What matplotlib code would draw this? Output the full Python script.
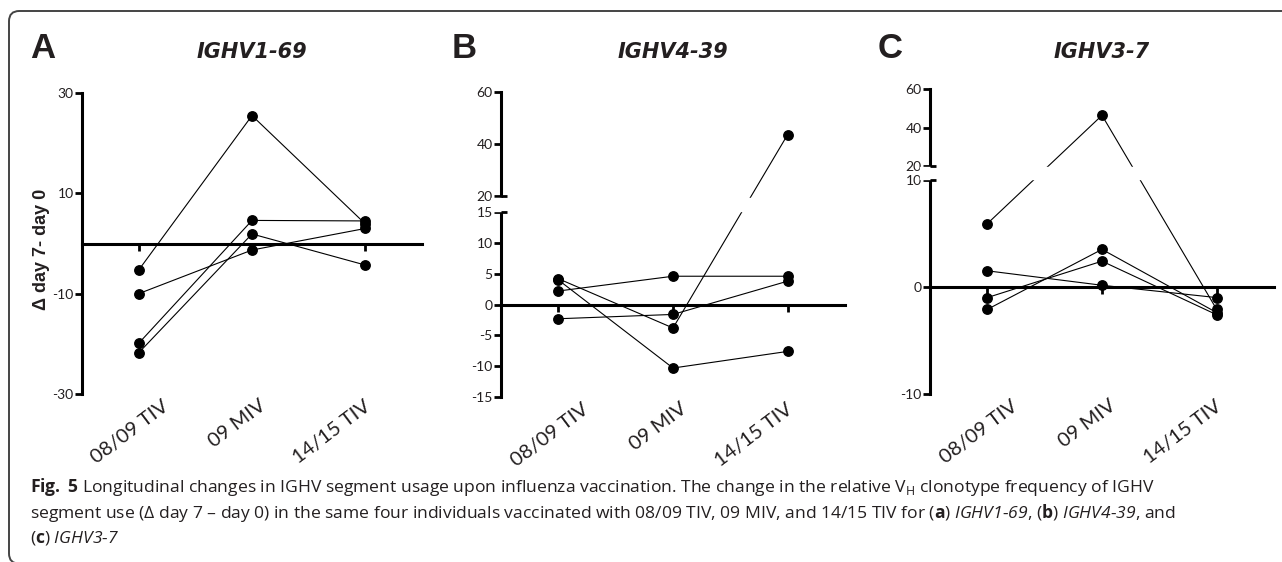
import numpy as np
import matplotlib.pyplot as plt
import matplotlib.transforms as mtransforms
from matplotlib.patches import FancyBboxPatch, Rectangle

plt.rcParams['font.family'] = ['Lato', 'DejaVu Sans']
plt.rcParams['mathtext.fontset'] = 'custom'
plt.rcParams['mathtext.rm'] = 'Open Sans'
plt.rcParams['mathtext.bf'] = 'Open Sans:bold'
# italic slot for gene names (sf is used so digits stay italic too)
plt.rcParams['mathtext.sf'] = 'Open Sans:italic'

categories = ['08/09 TIV', '09 MIV', '14/15 TIV']

# one row per individual: delta (day 7 - day 0) at each vaccination
ighv1_69 = [[-5.3, 25.5, 3.9],
            [-10.0, -1.3, 3.0],
            [-19.9, 4.6, 4.5],
            [-21.8, 1.9, -4.3]]
ighv4_39 = [[2.2, 4.6, 4.6],
            [-2.3, -1.6, 3.8],
            [4.2, -3.8, 43.7],
            [4.0, -10.3, -7.6]]
ighv3_7 = [[5.9, 46.4, -2.1],
           [1.5, 0.15, -1.0],
           [-2.1, 3.5, -2.4],
           [-1.0, 2.4, -2.6]]

ticks_a = [-30, -10, 10, 30]
ticks_b = [-15, -10, -5, 0, 5, 10, 15, 20, 40, 60]
ticks_c = [-10, 0, 10, 20, 40, 60]

W, H = 1282, 562
fig = plt.figure(figsize=(W / 100, H / 100), dpi=100)
ink = '#231f20'


def break_scale(lo, hi, k1, gap, k2):
    # piecewise linear y scale (pixels per unit below lo, across gap, above hi)
    a = lo * k1

    def fwd(y):
        y = np.asarray(y, dtype=float)
        return np.where(y <= lo, y * k1,
                        np.where(y <= hi, a + (y - lo) * gap / (hi - lo),
                                 a + gap + (y - hi) * k2))

    def inv(u):
        u = np.asarray(u, dtype=float)
        return np.where(u <= a, u / k1,
                        np.where(u <= a + gap, lo + (u - a) * (hi - lo) / gap,
                                 hi + (u - a - gap) / k2))
    return fwd, inv


def panel(rect, data, ticks, ylim, title, brk=None, scale=None):
    ax = fig.add_axes([rect[0] / W, 1 - rect[3] / H,
                       (rect[2] - rect[0]) / W, (rect[3] - rect[1]) / H])
    if scale is not None:
        ax.set_yscale('function', functions=scale)
    x = np.arange(len(categories))
    for row in data:
        ax.plot(x, row, color='black', lw=0.8, marker='o', ms=6.8,
                mfc='black', mec='black', clip_on=False, zorder=2)
    ax.set_xlim(-0.5, 2.5)
    ax.set_ylim(*ylim)
    ax.set_yticks(ticks)
    ax.set_yticklabels([str(t) for t in ticks])
    ax.set_xticks(x)
    ax.tick_params(axis='x', direction='out', length=5, width=2,
                   labelbottom=False)
    ax.tick_params(axis='y', direction='out', length=5, width=2,
                   labelsize=10, labelcolor=ink, pad=1)
    for s in ('top', 'right'):
        ax.spines[s].set_visible(False)
    ax.spines['left'].set_linewidth(2.2)
    ax.spines['bottom'].set_linewidth(2.2)
    ax.spines['bottom'].set_position(('data', 0))
    ax.patch.set_alpha(0)

    if brk:
        lo, hi = brk
        tr = ax.get_yaxis_transform()
        ax.add_patch(Rectangle((-0.03, lo + 0.45), 1.03, hi - lo - 0.9,
                               transform=tr, color='white', zorder=3,
                               clip_on=False))
        for yb in brk:
            ax.plot([0, 0.016], [yb, yb], transform=tr, color='black',
                    lw=2, clip_on=False, zorder=4, solid_capstyle='butt')

    shifts = [0.28, 0.12, 0.03]
    for i, (cat, dx) in enumerate(zip(categories, shifts)):
        tr = ax.get_xaxis_transform() + mtransforms.ScaledTranslation(
            dx, -0.10, fig.dpi_scale_trans)
        ax.text(i, 0, cat, transform=tr, rotation=37, rotation_mode='anchor',
                ha='right', va='center', fontsize=14.5, color=ink)

    cx = (rect[0] + rect[2]) / 2 / W
    fig.text(cx, 1 - 52 / H, title, ha='center', va='center', fontsize=15,
             fontweight='bold', fontstyle='italic', family='DejaVu Sans',
             color=ink)
    return ax


ax_a = panel((82, 93, 422, 394), ighv1_69, ticks_a, (-30, 30), 'IGHV1-69')
ax_a.set_ylabel('Δ day 7- day 0', fontsize=13, fontweight='bold',
                family='Liberation Sans', color=ink)
ax_a.yaxis.set_label_coords(-0.094, 0.482)

panel((501, 92, 845, 397), ighv4_39, ticks_b, (-15, 60), 'IGHV4-39',
      brk=(15, 20), scale=break_scale(15, 20, 92 / 15, 15.6, 2.6))
panel((930, 89, 1274, 394), ighv3_7, ticks_c, (-10, 60), 'IGHV3-7',
      brk=(10, 20), scale=break_scale(10, 20, 10.73, 13.3, 1.94))

for lx, letter in [(30, 'A'), (452, 'B'), (878, 'C')]:
    fig.text(lx / W, 1 - 48 / H, letter, ha='left', va='center', fontsize=25,
             fontweight='bold', family='Liberation Sans', color=ink)

# rounded frame around the figure
fig.patches.append(FancyBboxPatch(
    (9 / W, -0.003), 1.1, 1 - 11 / H + 0.003,
    boxstyle='round,pad=0,rounding_size=0.008', mutation_aspect=W / H,
    transform=fig.transFigure, fill=False, ec='#444444', lw=1.4))

caption = [
    r'$\mathbf{Fig.}$ $\mathbf{5}$ Longitudinal changes in IGHV segment usage upon '
    r'influenza vaccination. The change in the relative V$_{\mathrm{H}}$ '
    r'clonotype frequency of IGHV',
    r'segment use (Δ day 7 – day 0) in the same four individuals vaccinated with '
    r'08/09 TIV, 09 MIV, and 14/15 TIV for ($\mathbf{a}$) $\mathsf{IGHV1‐69}$, '
    r'($\mathbf{b}$) $\mathsf{IGHV4‐39}$, and',
    r'($\mathbf{c}$) $\mathsf{IGHV3‐7}$',
]
for k, line in enumerate(caption):
    fig.text(30 / W, 1 - (487 + 25.5 * k) / H, line, ha='left', va='center',
             fontsize=12.6, family='Open Sans', color=ink)

fig.savefig('out.png', dpi=100)
